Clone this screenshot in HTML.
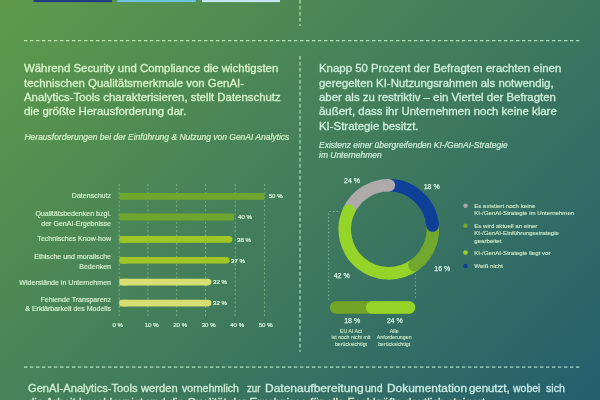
<!DOCTYPE html>
<html><head><meta charset="utf-8">
<style>
html,body{margin:0;padding:0;}
body{width:600px;height:400px;overflow:hidden;position:relative;
 background:linear-gradient(135deg,#5f9b4a 0%,#245e6e 100%);
 font-family:"Liberation Sans",Arial,sans-serif;color:#d8f4d0;-webkit-text-stroke-width:0.3px;}
.t{position:absolute;white-space:nowrap;}
.p{font-size:11.42px;line-height:14.4px;}
.it{font-style:italic;font-size:8.48px;line-height:10.7px;-webkit-text-stroke-width:0.2px;}
.lab{font-size:7.05px;line-height:9.5px;text-align:right;right:489px;-webkit-text-stroke-width:0.15px;}
.v{font-size:6.1px;line-height:8px;-webkit-text-stroke-width:0.22px;color:#dcf4d8;}
.ax{font-size:6.1px;line-height:8px;-webkit-text-stroke-width:0.22px;color:#d4f2dc;}
.dl{font-size:7px;line-height:8px;-webkit-text-stroke-width:0.25px;color:#d0f0e0;}
.lg{font-size:6.1px;line-height:7.6px;-webkit-text-stroke-width:0.08px;}
.sm{font-size:5.25px;line-height:6.5px;text-align:center;width:60px;-webkit-text-stroke-width:0.05px;}
svg{position:absolute;left:0;top:0;}
</style></head>
<body>
<svg width="600" height="400" viewBox="0 0 600 400">
 <!-- top colored bars -->
 <rect x="33.7" y="-1" width="78.3" height="3.1" fill="#1d3f7f"/>
 <rect x="117.5" y="-1" width="78.3" height="3.1" fill="#6ec3e5"/>
 <rect x="202" y="-1" width="78" height="3.1" fill="#c5e5f0"/>
 <!-- dashed separators -->
 <defs><linearGradient id="dg" gradientUnits="userSpaceOnUse" x1="0" y1="0" x2="500" y2="500"><stop offset="0" stop-color="#c6f4b4"/><stop offset="0.5" stop-color="#b8eec8"/><stop offset="1" stop-color="#ade2e0"/></linearGradient></defs>
 <g stroke="url(#dg)" stroke-opacity="0.9" stroke-width="1.2" stroke-dasharray="3.4 2.6" fill="none">
  <line x1="300" y1="0" x2="300" y2="26"/>
  <line x1="24" y1="40.6" x2="582" y2="40.6"/>
  <line x1="300" y1="56" x2="300" y2="352"/>
  <line x1="24" y1="367.2" x2="582" y2="367.2"/>
 </g>
 <!-- grid -->
 <g stroke="#b8e0a8" stroke-opacity="0.6" stroke-width="0.8" stroke-dasharray="2 2.2">
  <line x1="119.2" y1="184" x2="119.2" y2="318"/>
  <line x1="147.9" y1="184" x2="147.9" y2="318"/>
  <line x1="176.7" y1="184" x2="176.7" y2="318"/>
  <line x1="205.6" y1="184" x2="205.6" y2="318"/>
  <line x1="235.2" y1="184" x2="235.2" y2="318"/>
  <line x1="264.6" y1="184" x2="264.6" y2="318"/>
 </g>
 <!-- bars -->
 <rect x="119.5" y="192.9" width="144.8" height="6.8" rx="1" fill="#6fa62d"/>
 <rect x="119.5" y="213.6" width="114.5" height="6.9" rx="1" fill="#6fa62d"/>
 <rect x="119.5" y="236.1" width="112.9" height="6.6" rx="3.3" fill="#9ec726"/>
 <rect x="119.5" y="236.1" width="8" height="6.6" fill="#9ec726"/>
 <rect x="119.5" y="257" width="110.1" height="6.6" rx="3.3" fill="#9ec726"/>
 <rect x="119.5" y="257" width="8" height="6.6" fill="#9ec726"/>
 <rect x="119.5" y="278.8" width="91.9" height="6.6" rx="3.3" fill="#d7df72"/>
 <rect x="119.5" y="278.8" width="8" height="6.6" fill="#d7df72"/>
 <rect x="119.5" y="299.8" width="91.9" height="6.6" rx="3.3" fill="#d7df72"/>
 <rect x="119.5" y="299.8" width="8" height="6.6" fill="#d7df72"/>
 <!-- donut bracket dotted lines -->
 <g stroke-width="1" stroke-dasharray="1.3 2.4" fill="none">
  <polyline points="338,211.5 328.7,211.5 328.7,300" stroke="#a8d0c8" stroke-opacity="0.75"/>
  <line x1="415.4" y1="274" x2="415.4" y2="300" stroke="#90c0d8" stroke-opacity="0.8"/>
 </g>
 <!-- donut -->
 <g fill="none" stroke-width="12.6" transform="translate(388.8 229.3)">
  <path d="M0,-44 A44,44 0 0 1 43.83,-3.84" stroke="#0e409a"/>
  <path d="M43.83,-3.84 A44,44 0 0 1 25.6,35.8" stroke="#72a82e"/>
  <path d="M25.6,35.8 A44,44 0 0 1 -39.9,-18.6" stroke="#97d42a"/>
  <path d="M-39.9,-18.6 A44,44 0 0 1 0,-44" stroke="#aeaaa9"/>
 </g>
 <g transform="translate(388.8 229.3)">
  <circle cx="0" cy="-44" r="6.3" fill="#aeaaa9"/>
  <circle cx="43.83" cy="-3.84" r="6.3" fill="#0e409a"/>
  <circle cx="25.6" cy="35.8" r="6.3" fill="#72a82e"/>
  <circle cx="-39.9" cy="-18.6" r="6.3" fill="#97d42a"/>
 </g>
 <!-- pill -->
 <rect x="329.8" y="301.3" width="85.4" height="12.4" rx="6.2" fill="#72a527"/>
 <rect x="366" y="301.3" width="49.2" height="12.4" rx="6.2" fill="#97d42a"/>
 <!-- legend dots -->
 <circle cx="465.5" cy="205.8" r="2.3" fill="#a6a5a5"/>
 <circle cx="465.5" cy="225.7" r="2.3" fill="#72a82e"/>
 <circle cx="465.5" cy="252.5" r="2.3" fill="#97d42a"/>
 <circle cx="465.5" cy="266" r="2.3" fill="#0e409a"/>
</svg>

<div class="t p" style="left:24px;top:61.2px;color:#d9f5cc">Während Security und Compliance die wichtigsten<br>technischen Qualitätsmerkmale von GenAI-<br>Analytics-Tools charakterisieren, stellt Datenschutz<br>die größte Herausforderung dar.</div>
<div class="t it" style="left:24.5px;top:131.8px;color:#d4f2c8">Herausforderungen bei der Einführung &amp; Nutzung von GenAI Analytics</div>

<div class="t p" style="left:319px;top:61.2px;color:#cff0dc">Knapp 50 Prozent der Befragten erachten einen<br>geregelten KI-Nutzungsrahmen als notwendig,<br>aber als zu restriktiv – ein Viertel der Befragten<br>äußert, dass ihr Unternehmen noch keine klare<br>KI-Strategie besitzt.</div>
<div class="t it" style="left:319px;top:139.6px;color:#cdeedb">Existenz einer übergreifenden KI-/GenAI-Strategie<br>im Unternehmen</div>

<!-- bar labels -->
<div class="t lab" style="top:191.3px">Datenschutz</div>
<div class="t lab" style="top:209.1px">Qualitätsbedenken bzgl.<br>der GenAI-Ergebnisse</div>
<div class="t lab" style="top:234.3px">Technisches Know-how</div>
<div class="t lab" style="top:252.2px">Ethische und moralische<br>Bedenken</div>
<div class="t lab" style="top:277.5px">Widerstände in Unternehmen</div>
<div class="t lab" style="top:294.8px">Fehlende Transparenz<br>&amp; Erklärbarkeit des Modells</div>

<!-- values -->
<div class="t v" style="left:268.7px;top:192.2px">50 %</div>
<div class="t v" style="left:238px;top:213px">40 %</div>
<div class="t v" style="left:237px;top:235.5px">38 %</div>
<div class="t v" style="left:231px;top:256.5px">37 %</div>
<div class="t v" style="left:213px;top:278px">32 %</div>
<div class="t v" style="left:213px;top:299px">32 %</div>

<!-- axis -->
<div class="t ax" style="left:112.5px;top:320.5px">0 %</div>
<div class="t ax" style="left:144.7px;top:320.5px">10 %</div>
<div class="t ax" style="left:173.2px;top:320.5px">20 %</div>
<div class="t ax" style="left:201.7px;top:320.5px">30 %</div>
<div class="t ax" style="left:230.2px;top:320.5px">40 %</div>
<div class="t ax" style="left:258.7px;top:320.5px">50 %</div>

<!-- donut labels -->
<div class="t dl" style="left:344px;top:177px">24 %</div>
<div class="t dl" style="left:423.7px;top:182.7px">18 %</div>
<div class="t dl" style="left:434.3px;top:264.5px">16 %</div>
<div class="t dl" style="left:333.7px;top:272px">42 %</div>
<div class="t dl" style="left:344.2px;top:316.5px">18 %</div>
<div class="t dl" style="left:386.7px;top:316.5px">24 %</div>

<div class="t sm" style="left:321px;top:327.5px">EU AI Act<br>ist noch nicht mit<br>berücksichtigt</div>
<div class="t sm" style="left:364.2px;top:327.5px">Alle<br>Anforderungen<br>berücksichtigt</div>

<!-- legend -->
<div class="t lg" style="left:474.3px;top:201.5px">Es existiert noch keine<br>KI-/GenAI-Strategie im Unternehmen</div>
<div class="t lg" style="left:474.3px;top:221.5px">Es wird aktuell an einer<br>KI-/GenAI-Einführungsstrategie<br>gearbeitet</div>
<div class="t lg" style="left:474.3px;top:248.5px">KI-/GenAI-Strategie liegt vor</div>
<div class="t lg" style="left:474.3px;top:262px">Weiß nicht</div>

<div class="t p" style="left:0;top:380.9px;font-size:11.46px;width:600px;height:20px"><span style="position:absolute;left:28px;color:#d4f2d2;transform:scaleX(0.972);transform-origin:0 0">GenAI-Analytics-Tools</span><span style="position:absolute;left:141.4px;color:#d3f1d4;transform:scaleX(0.976);transform-origin:0 0">werden</span><span style="position:absolute;left:182.2px;color:#d0f0d8;transform:scaleX(0.923);transform-origin:0 0">vornehmlich</span><span style="position:absolute;left:247.2px;color:#cfefdb;transform:scaleX(0.85);transform-origin:0 0">zur</span><span style="position:absolute;left:265.0px;color:#cdeedf;transform:scaleX(1.047);transform-origin:0 0">Datenaufbereitung</span><span style="position:absolute;left:364.7px;color:#cceee2;transform:scaleX(0.92);transform-origin:0 0">und</span><span style="position:absolute;left:386.9px;color:#cbede6;transform:scaleX(1.04);transform-origin:0 0">Dokumentation</span><span style="position:absolute;left:468.9px;color:#caece9">genutzt,</span><span style="position:absolute;left:512.5px;color:#c9ecec;transform:scaleX(0.917);transform-origin:0 0">wobei</span><span style="position:absolute;left:545.8px;color:#c9ecec;transform:scaleX(0.935);transform-origin:0 0">sich</span><span style="position:absolute;left:28px;top:14.4px;color:#d2f0d8">die Arbeit beschleunigt und die Qualität der Ergebnisse für alle Fachkräfte deutlich steigert.</span></div>
</body></html>
